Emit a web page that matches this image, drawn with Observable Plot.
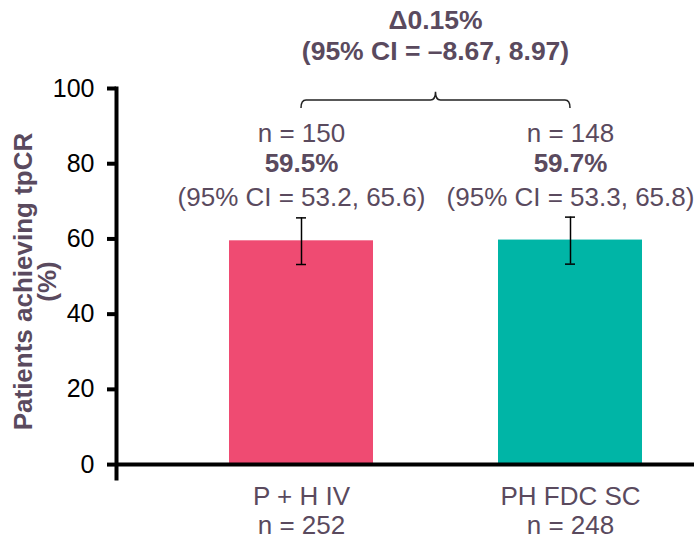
<!DOCTYPE html>
<html>
<head>
<meta charset="utf-8">
<script src="https://cdn.jsdelivr.net/npm/d3@7"></script>
<script src="https://cdn.jsdelivr.net/npm/@observablehq/plot@0.6"></script>
<style>
  html, body { margin: 0; padding: 0; background: #fff; }
  #chart { width: 694px; height: 540px; }
</style>
</head>
<body>
<div id="chart"></div>
<script>
const categories = ["P + H IV", "PH FDC SC"];
const values = [59.5, 59.7];
const ciLow = [53.2, 53.3];
const ciHigh = [65.6, 65.8];
const ciLabels = ["(95% CI = 53.2, 65.6)", "(95% CI = 53.3, 65.8)"];
const responders = [150, 148];
const totals = [252, 248];
const barColors = ["#ef4b72", "#00b5a6"];
const yTicks = [0, 20, 40, 60, 80, 100];
const diffLabel = "Δ0.15%";
const diffCILabel = "(95% CI = –8.67, 8.97)";
const yTitle = "Patients achieving tpCR\n(%)";
// bracket levels in data units: end hooks, horizontal line, centre tip
const bracketLevels = [94.7, 96.8, 99.0];

const textColor = "#5a4a5e";
const font = "'Liberation Sans', Arial, Helvetica, sans-serif";

const data = categories.map((c, i) => ({
  cat: c, value: values[i], lo: ciLow[i], hi: ciHigh[i],
  ci: ciLabels[i], n: responders[i], total: totals[i]
}));

const txt = { frameAnchor: "top", lineAnchor: "middle", textAnchor: "middle", fontSize: 26, fill: textColor };
const btm = { frameAnchor: "bottom", lineAnchor: "middle", textAnchor: "middle", fontSize: 26, fill: textColor };

const plot = Plot.plot({
  width: 694,
  height: 540,
  marginTop: 88,
  marginBottom: 62,
  marginLeft: 116,
  marginRight: 0,
  style: { fontFamily: font, fontSize: "24px", background: "#fff" },
  x: { type: "band", domain: categories, range: [174, 696], paddingInner: 0.465, paddingOuter: 0.2, axis: null },
  y: { domain: [-3.7, 100], axis: null },
  color: { domain: categories, range: barColors },
  marks: [
    Plot.barY(data, { x: "cat", y: "value", fill: "cat" }),
    Plot.ruleX(data, { x: "cat", y1: "lo", y2: "hi", stroke: "black", strokeWidth: 1.5 }),
    Plot.tickY(data, { x: "cat", y: "lo", stroke: "black", strokeWidth: 1.5, insetLeft: 67, insetRight: 67 }),
    Plot.tickY(data, { x: "cat", y: "hi", stroke: "black", strokeWidth: 1.5, insetLeft: 67, insetRight: 67 }),
    Plot.ruleY([0], { stroke: "black", strokeWidth: 4 }),
    Plot.frame({ anchor: "left", stroke: "black", strokeWidth: 4 }),
    Plot.axisY({ ticks: yTicks, tickSize: 9, tickPadding: 13, strokeWidth: 4, fontSize: 25, fill: "black", stroke: "black", label: null }),
    Plot.text(data, { ...txt, x: "cat", text: d => `n = ${d.n}`, dy: 45 }),
    Plot.text(data, { ...txt, x: "cat", text: d => `${d.value.toFixed(1)}%`, dy: 75, fontWeight: "bold" }),
    Plot.text(data, { ...txt, x: "cat", text: "ci", dy: 109 }),
    Plot.text(data, { ...btm, x: "cat", text: "cat", dy: 18 }),
    Plot.text(data, { ...btm, x: "cat", text: d => `n = ${d.total}`, dy: 47 }),
    Plot.text([yTitle], { text: d => d, frameAnchor: "left", textAnchor: "middle", lineAnchor: "middle", rotate: -90, dx: -80, dy: -2, fontSize: 26, fontWeight: "bold", lineHeight: 0.92, fill: textColor })
  ]
});

document.getElementById("chart").appendChild(plot);

// Bracket and difference label, positioned with the plot's own scales
const xs = plot.scale("x");
const ys = plot.scale("y");
const half = xs.bandwidth / 2;
const x1 = xs.apply(categories[0]) + half;
const x2 = xs.apply(categories[1]) + half;
const mid = (x1 + x2) / 2;
const yEnd = ys.apply(bracketLevels[0]);
const yLine = ys.apply(bracketLevels[1]);
const yTip = ys.apply(bracketLevels[2]);
const r = 5;
const path = `M${x1},${yEnd} Q${x1},${yLine} ${x1 + r},${yLine} L${mid - r},${yLine} Q${mid},${yLine} ${mid},${yTip} Q${mid},${yLine} ${mid + r},${yLine} L${x2 - r},${yLine} Q${x2},${yLine} ${x2},${yEnd}`;
const svg = d3.select(plot);
svg.append("path").attr("d", path).attr("fill", "none").attr("stroke", "#222").attr("stroke-width", 1.5);
svg.append("text").attr("x", mid).attr("y", 21).attr("dy", "0.32em").attr("text-anchor", "middle")
  .attr("font-size", 26.5).attr("font-weight", "bold").attr("fill", textColor).text(diffLabel);
svg.append("text").attr("x", mid).attr("y", 52).attr("dy", "0.32em").attr("text-anchor", "middle")
  .attr("font-size", 26.5).attr("font-weight", "bold").attr("fill", textColor).text(diffCILabel);
</script>
</body>
</html>
